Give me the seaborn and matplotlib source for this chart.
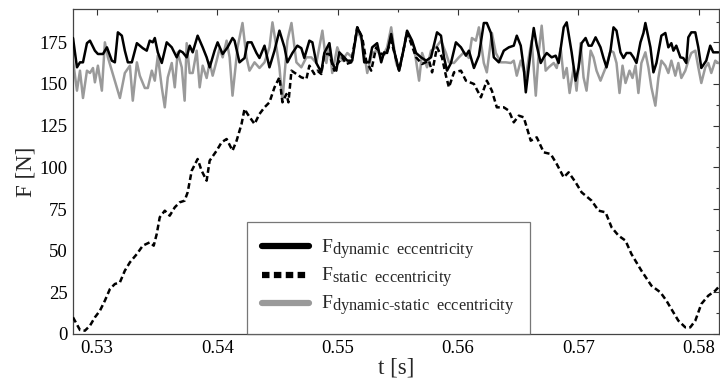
import numpy as np
import pandas as pd
import matplotlib
matplotlib.use("Agg")
import matplotlib.pyplot as plt
import seaborn as sns
from matplotlib.lines import Line2D
try:
    import matplotlib._mathtext as _mt
    _mt.SHRINK_FACTOR = 0.84
except Exception:
    pass

# ---------------- data ----------------
t_dyn = [0.52800, 0.52833, 0.52858, 0.52883, 0.52916, 0.52941, 0.52982, 0.53007, 0.53049, 0.53082,
         0.53123, 0.53148, 0.53173, 0.53206, 0.53231, 0.53256, 0.53289, 0.53331, 0.53380, 0.53413,
         0.53438, 0.53463, 0.53480, 0.53505, 0.53538, 0.53579, 0.53621, 0.53662, 0.53687, 0.53712,
         0.53745, 0.53770, 0.53795, 0.53836, 0.53878, 0.53911, 0.53936, 0.53977, 0.54002, 0.54044,
         0.54085, 0.54126, 0.54143, 0.54184, 0.54226, 0.54251, 0.54284, 0.54325, 0.54350, 0.54392,
         0.54433, 0.54475, 0.54516, 0.54558, 0.54582, 0.54624, 0.54665, 0.54698, 0.54723, 0.54765,
         0.54790, 0.54823, 0.54864, 0.54889, 0.54931, 0.54955, 0.54989, 0.55013, 0.55055, 0.55080,
         0.55121, 0.55163, 0.55196, 0.55221, 0.55262, 0.55287, 0.55328, 0.55362, 0.55386, 0.55411,
         0.55445, 0.55469, 0.55511, 0.55552, 0.55577, 0.55619, 0.55652, 0.55693, 0.55735, 0.55776,
         0.55826, 0.55859, 0.55884, 0.55909, 0.55942, 0.55983, 0.56025, 0.56066, 0.56091, 0.56133,
         0.56174, 0.56215, 0.56240, 0.56274, 0.56298, 0.56340, 0.56381, 0.56423, 0.56464, 0.56489,
         0.56522, 0.56547, 0.56564, 0.56605, 0.56630, 0.56655, 0.56688, 0.56713, 0.56738, 0.56779,
         0.56812, 0.56837, 0.56879, 0.56904, 0.56945, 0.56978, 0.57003, 0.57028, 0.57061, 0.57086,
         0.57111, 0.57144, 0.57185, 0.57210, 0.57235, 0.57268, 0.57293, 0.57318, 0.57351, 0.57376,
         0.57401, 0.57434, 0.57459, 0.57484, 0.57517, 0.57542, 0.57558, 0.57600, 0.57625, 0.57650,
         0.57691, 0.57724, 0.57749, 0.57774, 0.57791, 0.57815, 0.57849, 0.57873, 0.57898, 0.57915,
         0.57940, 0.57973, 0.57998, 0.58023, 0.58064, 0.58097, 0.58122, 0.58164]
f_dyn = [177.6, 160, 163, 163, 174.5, 176, 170, 168, 168, 172,
         164, 163, 181, 179, 170, 163, 163, 174.5, 171.5, 170,
         176, 175, 177.6, 169, 162.6, 175, 172, 166, 170, 169,
         166, 173, 169, 179, 172, 166, 160, 170, 175, 168,
         172, 177.6, 176, 163, 165.6, 175, 175, 168.6, 165.6, 173,
         160, 170, 182, 172, 163, 168.6, 173, 171.5, 165.6, 176,
         175, 162.6, 157, 168.6, 174.5, 162.6, 158, 169, 166, 164,
         164, 184, 179, 163, 163, 172, 174.5, 163, 169, 168.6,
         180, 170, 158, 172, 182, 176, 168.6, 166, 164, 166,
         181, 179, 166, 158, 162.6, 175, 172, 167, 170, 159.6,
         167, 186.6, 186.6, 180.6, 166, 163, 170, 172, 173, 179,
         173, 159.6, 145, 170, 183.6, 173, 162.6, 166, 168.6, 166,
         167, 162.6, 184, 187, 169, 152, 160, 174.5, 177.6, 173,
         173, 178, 172, 165.6, 160, 170, 184, 182, 169, 165.6,
         168.6, 168.6, 166, 162.6, 175, 180.6, 186.6, 172, 157, 162.6,
         179, 180.6, 172, 174.5, 170, 173, 166, 165.6, 162.6, 178,
         181, 181, 172, 159.6, 164, 173, 169, 169]

t_sta = [0.52800, 0.52858, 0.52899, 0.52941, 0.52982, 0.53024, 0.53065, 0.53107, 0.53148, 0.53190,
         0.53231, 0.53273, 0.53331, 0.53380, 0.53438, 0.53471, 0.53496, 0.53521, 0.53563, 0.53604,
         0.53646, 0.53687, 0.53728, 0.53753, 0.53787, 0.53836, 0.53869, 0.53911, 0.53936, 0.53994,
         0.54035, 0.54077, 0.54126, 0.54160, 0.54201, 0.54226, 0.54251, 0.54309, 0.54350, 0.54392,
         0.54433, 0.54475, 0.54516, 0.54541, 0.54574, 0.54591, 0.54616, 0.54657, 0.54698, 0.54740,
         0.54765, 0.54806, 0.54831, 0.54864, 0.54889, 0.54931, 0.54972, 0.54997, 0.55038, 0.55071,
         0.55113, 0.55163, 0.55204, 0.55237, 0.55279, 0.55320, 0.55362, 0.55403, 0.55445, 0.55511,
         0.55577, 0.55652, 0.55702, 0.55760, 0.55785, 0.55826, 0.55867, 0.55900, 0.55925, 0.55967,
         0.56025, 0.56066, 0.56133, 0.56191, 0.56240, 0.56282, 0.56323, 0.56381, 0.56423, 0.56464,
         0.56506, 0.56547, 0.56605, 0.56655, 0.56713, 0.56771, 0.56821, 0.56879, 0.56920, 0.56978,
         0.57028, 0.57111, 0.57169, 0.57227, 0.57277, 0.57335, 0.57393, 0.57442, 0.57525, 0.57608,
         0.57683, 0.57733, 0.57774, 0.57832, 0.57890, 0.57931, 0.57973, 0.58023, 0.58081, 0.58139,
         0.58164]
f_sta = [10, 2.4, 2, 5, 10, 14, 20, 27, 30, 31,
         38, 43, 48, 53, 55, 53, 60, 70, 74, 71,
         76, 79, 80, 85, 98, 105, 98, 92, 104, 110,
         115, 117, 110, 116, 126, 135, 132, 126, 132, 136,
         139, 148, 154, 139, 144, 139, 158, 156, 154, 153,
         161, 156, 158, 156, 168, 168, 158, 162, 166, 162,
         163, 184, 178, 164, 158, 172, 168, 168, 176, 158,
         181, 166, 162, 164, 157, 172, 166, 155, 148, 157,
         158, 152, 150, 142, 152, 146, 136, 136, 134, 127,
         131, 130, 116, 118, 109, 108, 102, 94, 97, 91,
         85, 80, 74, 73, 64, 59, 56, 48, 38, 29,
         25, 20, 15, 8, 4, 4, 8, 18, 23, 26,
         28]

t_ds = [0.52800, 0.52833, 0.52858, 0.52883, 0.52916, 0.52941, 0.52966, 0.52982, 0.53007, 0.53040,
        0.53065, 0.53090, 0.53123, 0.53148, 0.53190, 0.53231, 0.53273, 0.53297, 0.53331, 0.53355,
        0.53397, 0.53422, 0.53455, 0.53480, 0.53505, 0.53538, 0.53563, 0.53588, 0.53621, 0.53646,
        0.53670, 0.53704, 0.53728, 0.53745, 0.53770, 0.53795, 0.53828, 0.53853, 0.53878, 0.53911,
        0.53936, 0.53961, 0.53994, 0.54019, 0.54044, 0.54077, 0.54102, 0.54126, 0.54168, 0.54209,
        0.54242, 0.54267, 0.54309, 0.54350, 0.54392, 0.54433, 0.54458, 0.54491, 0.54516, 0.54541,
        0.54582, 0.54616, 0.54657, 0.54698, 0.54740, 0.54781, 0.54823, 0.54873, 0.54906, 0.54931,
        0.54955, 0.54997, 0.55038, 0.55080, 0.55121, 0.55163, 0.55204, 0.55246, 0.55287, 0.55328,
        0.55370, 0.55411, 0.55445, 0.55486, 0.55511, 0.55577, 0.55635, 0.55677, 0.55702, 0.55743,
        0.55776, 0.55818, 0.55859, 0.55900, 0.55925, 0.55967, 0.56008, 0.56050, 0.56091, 0.56116,
        0.56149, 0.56174, 0.56215, 0.56240, 0.56282, 0.56315, 0.56356, 0.56398, 0.56439, 0.56464,
        0.56489, 0.56522, 0.56564, 0.56589, 0.56613, 0.56647, 0.56671, 0.56696, 0.56729, 0.56754,
        0.56796, 0.56821, 0.56854, 0.56879, 0.56904, 0.56928, 0.56962, 0.56986, 0.57020, 0.57044,
        0.57069, 0.57103, 0.57127, 0.57152, 0.57185, 0.57210, 0.57235, 0.57268, 0.57293, 0.57318,
        0.57343, 0.57368, 0.57393, 0.57426, 0.57451, 0.57476, 0.57500, 0.57525, 0.57558, 0.57583,
        0.57608, 0.57641, 0.57666, 0.57691, 0.57724, 0.57749, 0.57774, 0.57807, 0.57832, 0.57857,
        0.57890, 0.57915, 0.57940, 0.57973, 0.57998, 0.58023, 0.58056, 0.58081, 0.58106, 0.58139,
        0.58164]
f_ds = [164, 146, 158, 141.6, 158, 156.6, 159.6, 151, 161, 146,
        175, 166, 158, 152, 141.6, 156.6, 161, 140, 163, 155,
        147.6, 147.6, 158, 152, 167, 148, 136, 154, 162.6, 148,
        169, 160, 140, 174.5, 156.6, 156.6, 170, 148, 161, 153.6,
        163, 155, 164, 171.5, 166, 176, 166, 143, 172, 186.6,
        166, 158, 163, 159.6, 163, 172, 187, 172, 160, 140,
        176, 186.6, 163, 160, 166, 166, 162.6, 182, 162.6, 174.5,
        156.6, 172, 164, 168.6, 166, 182, 176, 156.6, 168.6, 170,
        166, 172, 184, 162.6, 158, 180.6, 172, 152, 168.6, 160,
        170, 172, 176, 168.6, 163, 162.6, 166, 169, 165.6, 177.6,
        176, 184, 162.6, 157, 180.6, 168.6, 163, 163, 162.6, 164,
        155, 164, 154, 166, 176, 143, 168.6, 185, 158, 160,
        162.6, 159.6, 171.5, 153.6, 159.6, 144.6, 160, 146, 174.5, 154,
        146, 170, 166, 158, 152, 156.6, 161, 170, 169, 162.6,
        144.6, 161, 150.6, 158, 153.6, 161, 144.6, 162.6, 169, 160,
        148, 137, 153.6, 164, 161, 156.6, 164, 155, 162.6, 153.6,
        158, 164, 168.6, 170, 160, 150.6, 160, 162.6, 156.6, 164,
        162.6]

labels = [r"$\mathrm{F}_{\mathrm{dynamic\ \ eccentricity}}$",
          r"$\mathrm{F}_{\mathrm{static\ \ eccentricity}}$",
          r"$\mathrm{F}_{\mathrm{dynamic\text{-}static\ \ eccentricity}}$"]
x_ticks = [0.53, 0.54, 0.55, 0.56, 0.57, 0.58]
y_ticks = [0, 25, 50, 75, 100, 125, 150, 175]

# ---------------- style ----------------
sns.set_theme(style="white")
plt.rcParams["font.family"] = ["Liberation Serif", "DejaVu Serif"]
plt.rcParams["mathtext.fontset"] = "custom"
plt.rcParams["mathtext.rm"] = "Liberation Serif"
plt.rcParams["mathtext.it"] = "Liberation Serif:italic"
plt.rcParams["mathtext.bf"] = "Liberation Serif:bold"

BLACK = "#000000"
GRAY = "#9a9a9a"

df = pd.concat([
    pd.DataFrame({"t": t_dyn, "F": f_dyn, "s": "dyn"}),
    pd.DataFrame({"t": t_ds, "F": f_ds, "s": "ds"}),
    pd.DataFrame({"t": t_sta, "F": f_sta, "s": "sta"}),
], ignore_index=True)

fig = plt.figure(figsize=(7.2, 3.83), dpi=100)
ax = fig.add_axes([73 / 720, 49 / 383, 646 / 720, 325 / 383])

sns.lineplot(data=df[df.s == "dyn"], x="t", y="F", ax=ax, color=BLACK, lw=1.8,
             estimator=None, sort=False, zorder=3, legend=False)
sns.lineplot(data=df[df.s == "ds"], x="t", y="F", ax=ax, color=GRAY, lw=1.8,
             estimator=None, sort=False, zorder=2, legend=False)
sns.lineplot(data=df[df.s == "sta"], x="t", y="F", ax=ax, color=BLACK, lw=1.8,
             estimator=None, sort=False, zorder=4, legend=False)
ax.lines[-1].set_dashes((2.3, 1.3))

ax.set_xlim(0.528, 0.5817)
ax.set_ylim(0, 195)
ax.set_xticks(x_ticks)
ax.set_xticklabels([f"{v:.2f}" for v in x_ticks])
ax.set_yticks(y_ticks)
ax.set_yticklabels([str(v) for v in y_ticks])
ax.set_xticks([0.535, 0.545, 0.555, 0.565, 0.575], minor=True)
ax.set_yticks([12.5, 37.5, 62.5, 87.5, 112.5, 137.5, 162.5, 187.5], minor=True)
ax.tick_params(which="both", direction="in", top=True, right=True, colors="#333333",
               labelcolor="black", width=0.8)
ax.tick_params(which="major", length=4, labelsize=13.5, pad=4)
ax.tick_params(which="minor", length=2.5)
for sp in ax.spines.values():
    sp.set_color("#444444")
    sp.set_linewidth(0.9)

ax.set_xlabel("t [s]", fontsize=16.5, labelpad=1)
ax.set_ylabel("F [N]", fontsize=16.5, labelpad=2)

handles = [Line2D([], [], color=BLACK, lw=4.5),
           Line2D([], [], color=BLACK, lw=4.5, dashes=(1.2, 0.7)),
           Line2D([], [], color=GRAY, lw=4.5)]
leg = ax.legend(handles, labels, loc="lower left", bbox_to_anchor=(0.269, 0.0),
                borderaxespad=0, fontsize=14, frameon=True, fancybox=False,
                handlelength=2.4, handletextpad=0.6, labelspacing=0.2,
                borderpad=0.8)
leg.get_frame().set_edgecolor("#555555")
leg.get_frame().set_linewidth(0.9)
leg.set_zorder(10)

fig.savefig("out.png", dpi=100, facecolor="white")
